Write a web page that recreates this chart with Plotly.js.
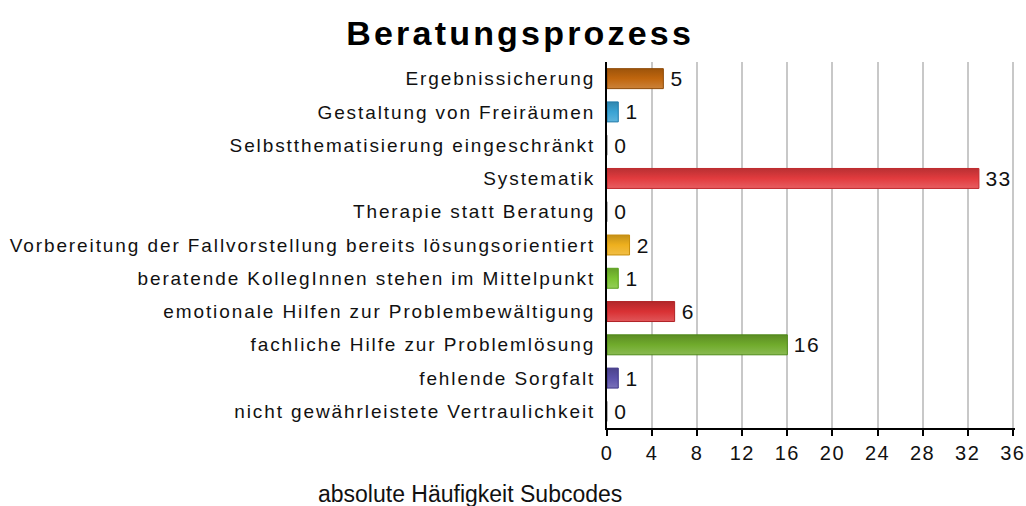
<!DOCTYPE html>
<html><head><meta charset="utf-8">
<script src="https://cdn.plot.ly/plotly-3.0.1.min.js"></script>
<style>
html,body{margin:0;padding:0;background:#fff}
#c{width:1026px;height:506px}
#c .ytick text{letter-spacing:1.9px}
#c .xtick text{letter-spacing:1.5px}
#c .gtitle{letter-spacing:3.2px}
#c .bartext{letter-spacing:1.5px}
</style>
</head><body><div id="c"></div>
<script>
const categories = [
  "Ergebnissicherung",
  "Gestaltung von Freiräumen",
  "Selbstthematisierung eingeschränkt",
  "Systematik",
  "Therapie statt Beratung",
  "Vorbereitung der Fallvorstellung bereits lösungsorientiert",
  "beratende KollegInnen stehen im Mittelpunkt",
  "emotionale Hilfen zur Problembewältigung",
  "fachliche Hilfe zur Problemlösung",
  "fehlende Sorgfalt",
  "nicht gewährleistete Vertraulichkeit"
];
const values = [5, 1, 0, 33, 0, 2, 1, 6, 16, 1, 0];
const fillColors = ["#c0660e", "#3aa3d4", "#cccccc", "#e23b3e", "#cccccc", "#eeb01e", "#7cc333", "#d93134", "#70ab2c", "#5c52aa", "#cccccc"];
const lineColors = ["#8e4a06", "#1f78a8", "#999999", "#c02a2e", "#999999", "#c98e0a", "#58a01c", "#b02226", "#4e8a18", "#3e3688", "#999999"];
const tickVals = [0, 4, 8, 12, 16, 20, 24, 28, 32, 36];

const font = "Liberation Sans, Arial, sans-serif";
Plotly.newPlot("c", [{
  type: "bar",
  orientation: "h",
  y: categories,
  x: values,
  text: values.map(v => "\u2009" + v),
  textposition: "outside",
  constraintext: "none",
  cliponaxis: false,
  textfont: {family: font, size: 21, color: "#111"},
  marker: {color: fillColors, line: {color: lineColors, width: 1}},
  hoverinfo: "x+y"
}], {
  width: 1026, height: 506,
  margin: {l: 607, r: 11, t: 62, b: 78},
  paper_bgcolor: "#fff", plot_bgcolor: "#fff",
  bargap: 0.4,
  showlegend: false,
  title: {text: "<b>Beratungsprozess</b>", font: {family: font, size: 34, color: "#000"}, xref: "container", x: 0.507, xanchor: "center", y: 0.935, yanchor: "middle"},
  xaxis: {
    range: [0, 36.2], tickvals: tickVals, ticktext: tickVals.map(String),
    showgrid: true, gridcolor: "#c8c8c8", gridwidth: 2,
    showline: true, linecolor: "#000", linewidth: 2,
    ticks: "outside", ticklen: 6, tickwidth: 2, tickcolor: "#000",
    tickfont: {family: font, size: 20, color: "#111"},
    zeroline: false, fixedrange: true
  },
  yaxis: {
    autorange: "reversed", showgrid: false,
    showline: true, linecolor: "#000", linewidth: 2,
    ticks: "outside", ticklen: 6, tickcolor: "rgba(0,0,0,0)",
    tickfont: {family: font, size: 19, color: "#111"},
    fixedrange: true
  },
  annotations: [{
    text: "absolute Häufigkeit Subcodes", xref: "paper", yref: "paper",
    x: -0.335, y: -0.18, xanchor: "center", yanchor: "middle", showarrow: false,
    font: {family: font, size: 23, color: "#111"}
  }]
}, {displayModeBar: false, staticPlot: true}).then(() => {
  // vertical shading on bars, like the glossy bars of the reference
  const svg = document.querySelector("#c svg.main-svg");
  let defs = svg.querySelector("defs");
  const NS = "http://www.w3.org/2000/svg";
  const shade = (hex, f) => {
    const n = parseInt(hex.slice(1), 16);
    let r = (n >> 16) & 255, g = (n >> 8) & 255, b = n & 255;
    const m = v => f < 1 ? Math.round(v * f) : Math.round(v + (255 - v) * (f - 1));
    return `rgb(${m(r)},${m(g)},${m(b)})`;
  };
  document.querySelectorAll("#c .trace.bars .point path").forEach((p, i) => {
    const c = fillColors[i];
    const lg = document.createElementNS(NS, "linearGradient");
    lg.setAttribute("id", "bargrad" + i);
    lg.setAttribute("x1", "0"); lg.setAttribute("y1", "0");
    lg.setAttribute("x2", "0"); lg.setAttribute("y2", "1");
    [[0, shade(c, 0.82)], [0.5, shade(c, 1.0)], [1, shade(c, 1.18)]].forEach(([o, col]) => {
      const s = document.createElementNS(NS, "stop");
      s.setAttribute("offset", o);
      s.setAttribute("stop-color", col);
      lg.appendChild(s);
    });
    defs.appendChild(lg);
    p.style.fill = "url(#bargrad" + i + ")";
  });
});
</script></body></html>
